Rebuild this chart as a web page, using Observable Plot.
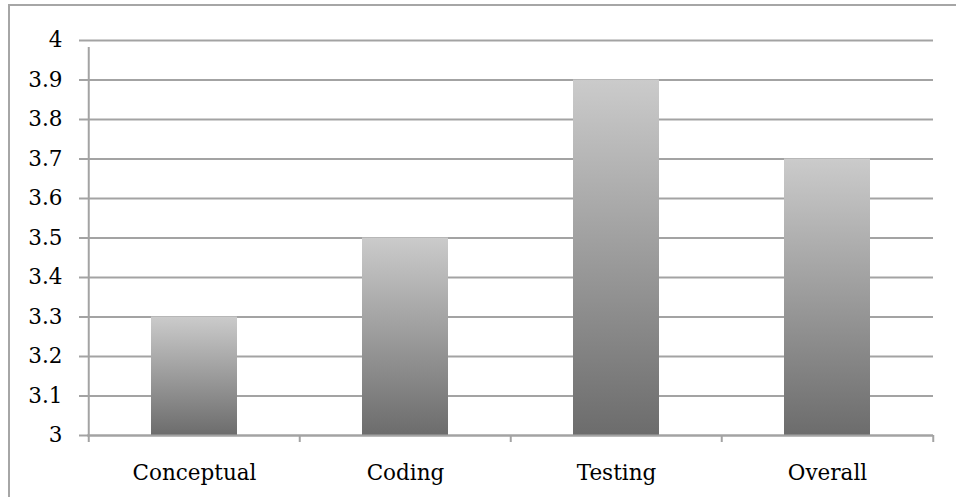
<!DOCTYPE html>
<html>
<head>
<meta charset="utf-8">
<script src="https://cdn.jsdelivr.net/npm/d3@7"></script>
<script src="https://cdn.jsdelivr.net/npm/@observablehq/plot@0.6"></script>
<style>
  html, body { margin: 0; padding: 0; background: #fff; }
  #wrap { position: relative; width: 956px; height: 497px; overflow: hidden; }
  #frame { position: absolute; left: 8px; top: 4px; width: 2000px; height: 2000px;
           border-left: 2px solid #a6a6a6; border-top: 2px solid #a6a6a6; pointer-events: none; }
  #chart { position: absolute; left: 0; top: 0; }
</style>
</head>
<body>
<div id="wrap"><div id="chart"></div><div id="frame"></div></div>
<script>
const categories = ["Conceptual", "Coding", "Testing", "Overall"];
const values = [3.3, 3.5, 3.9, 3.7];
const yDomain = [3, 4];
const yTicks = [3, 3.1, 3.2, 3.3, 3.4, 3.5, 3.6, 3.7, 3.8, 3.9, 4];

const data = categories.map((c, i) => ({category: c, value: values[i]}));

const W = 956, H = 497;
const mL = 87, mR = 23, mT = 40, mB = 62;
const step = (W - mL - mR) / categories.length;
const gridColor = "#a3a3a3";
const font = "'DejaVu Serif', serif";
const fs = 21.5;

const plot = Plot.plot({
  width: W,
  height: H,
  marginLeft: mL,
  marginRight: mR,
  marginTop: mT,
  marginBottom: mB,
  style: {fontFamily: font, fontSize: fs + "px", color: "#000", background: "#fff", overflow: "visible"},
  x: {domain: categories, paddingInner: 0.593, paddingOuter: 0.2965, label: null},
  y: {domain: yDomain, label: null},
  marks: [
    Plot.gridY(yTicks, {stroke: gridColor, strokeOpacity: 1, strokeWidth: 2}),
    Plot.barY(data, {x: "category", y1: yDomain[0], y2: "value", fill: "url(#barGrad)",
      style: "filter: drop-shadow(0px 0px 2.5px rgba(0,0,0,0.35));"}),
    Plot.ruleY([yDomain[0]], {stroke: gridColor, strokeWidth: 2}),
    Plot.axisY({ticks: yTicks, tickSize: 8, tickPadding: 17, stroke: gridColor, strokeWidth: 2, strokeOpacity: 1,
      tickFormat: d => String(+d.toFixed(1)), fontSize: fs, fill: "#000"}),
    Plot.axisX({tickSize: 0, tickPadding: 29, fontSize: fs, fill: "#000"}),
    // category boundary ticks below the x axis
    Plot.ruleX(categories, {x: d => d, dx: -step / 2, y1: yDomain[0], y2: yDomain[0], insetBottom: -7,
      stroke: gridColor, strokeWidth: 2}),
    Plot.ruleX([categories[categories.length - 1]], {x: d => d, dx: step / 2, y1: yDomain[0], y2: yDomain[0], insetBottom: -7,
      stroke: gridColor, strokeWidth: 2}),
    // vertical y axis line at the left edge of the first band
    Plot.ruleX(categories.slice(0, 1), {x: d => d, dx: -step / 2, y1: yDomain[0], y2: yDomain[1],
      insetBottom: -7, stroke: gridColor, strokeWidth: 2})
  ]
});

// gradient definition for bars
const svg = d3.select(plot);
const defs = svg.insert("defs", ":first-child");
const grad = defs.append("linearGradient").attr("id", "barGrad")
  .attr("x1", 0).attr("y1", 0).attr("x2", 0).attr("y2", 1);
grad.append("stop").attr("offset", "0%").attr("stop-color", "#cbcbcb");
grad.append("stop").attr("offset", "100%").attr("stop-color", "#6c6c6c");

document.getElementById("chart").appendChild(plot);
</script>
</body>
</html>
